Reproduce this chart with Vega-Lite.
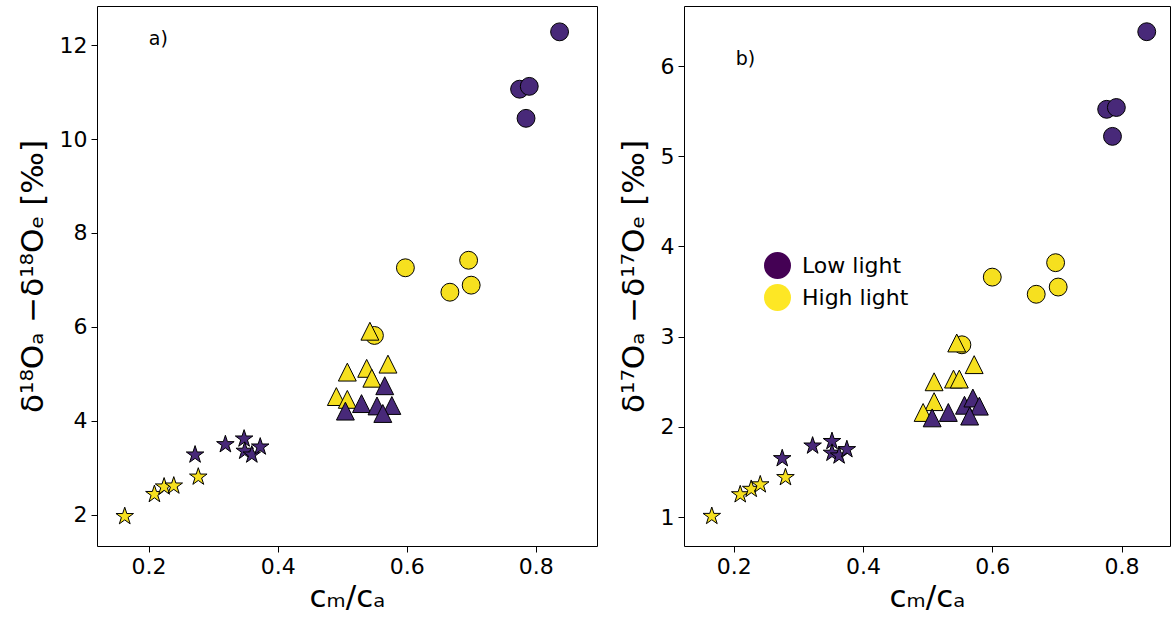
{
 "$schema": "https://vega.github.io/schema/vega-lite/v6.json",
 "padding": {"left": 16, "top": 5, "right": 3, "bottom": 5},
 "spacing": 19,
 "config": {
   "font": "DejaVu Sans",
   "view": {"stroke": "black", "strokeWidth": 1},
   "axis": {"grid": false, "domain": false, "tickColor": "black", "tickSize": 6, "labelColor": "black", "labelFontSize": 22, "titleFontSize": 31, "titleFontWeight": "normal", "titleColor": "black", "labelPadding": 4, "titlePadding": 10},
   "axisX": {"titlePadding": 5}
 },
 "resolve": {"legend": {"color": "independent"}},
 "hconcat": [
  {
   "width": 500, "height": 540,
   "data": {"values": [
   {"light": "Low light", "kind": "circle", "cr": 0.837, "dv": 12.28},
   {"light": "Low light", "kind": "circle", "cr": 0.775, "dv": 11.06},
   {"light": "Low light", "kind": "circle", "cr": 0.790, "dv": 11.12},
   {"light": "Low light", "kind": "circle", "cr": 0.785, "dv": 10.44},
   {"light": "High light", "kind": "circle", "cr": 0.598, "dv": 7.26},
   {"light": "High light", "kind": "circle", "cr": 0.696, "dv": 7.42},
   {"light": "High light", "kind": "circle", "cr": 0.667, "dv": 6.74},
   {"light": "High light", "kind": "circle", "cr": 0.700, "dv": 6.89},
   {"light": "High light", "kind": "circle", "cr": 0.550, "dv": 5.82},
   {"light": "High light", "kind": "triangle", "cr": 0.543, "dv": 5.91},
   {"light": "High light", "kind": "triangle", "cr": 0.508, "dv": 5.04},
   {"light": "High light", "kind": "triangle", "cr": 0.538, "dv": 5.12},
   {"light": "High light", "kind": "triangle", "cr": 0.571, "dv": 5.21},
   {"light": "High light", "kind": "triangle", "cr": 0.546, "dv": 4.91},
   {"light": "High light", "kind": "triangle", "cr": 0.491, "dv": 4.52},
   {"light": "High light", "kind": "triangle", "cr": 0.508, "dv": 4.46},
   {"light": "Low light", "kind": "triangle", "cr": 0.566, "dv": 4.75},
   {"light": "Low light", "kind": "triangle", "cr": 0.505, "dv": 4.21},
   {"light": "Low light", "kind": "triangle", "cr": 0.530, "dv": 4.37},
   {"light": "Low light", "kind": "triangle", "cr": 0.554, "dv": 4.32},
   {"light": "Low light", "kind": "triangle", "cr": 0.577, "dv": 4.33},
   {"light": "Low light", "kind": "triangle", "cr": 0.563, "dv": 4.16},
   {"light": "High light", "kind": "star", "cr": 0.163, "dv": 1.97},
   {"light": "High light", "kind": "star", "cr": 0.209, "dv": 2.44},
   {"light": "High light", "kind": "star", "cr": 0.224, "dv": 2.60},
   {"light": "High light", "kind": "star", "cr": 0.239, "dv": 2.62},
   {"light": "High light", "kind": "star", "cr": 0.277, "dv": 2.81},
   {"light": "Low light", "kind": "star", "cr": 0.272, "dv": 3.28},
   {"light": "Low light", "kind": "star", "cr": 0.319, "dv": 3.50},
   {"light": "Low light", "kind": "star", "cr": 0.348, "dv": 3.62},
   {"light": "Low light", "kind": "star", "cr": 0.349, "dv": 3.36},
   {"light": "Low light", "kind": "star", "cr": 0.360, "dv": 3.28},
   {"light": "Low light", "kind": "star", "cr": 0.373, "dv": 3.45},
   {"light": "note", "kind": "label", "cr": 0.215, "dv": 12.13, "label": "a)"}
   ]},
   "encoding": {
     "x": {"field": "cr", "type": "quantitative", "scale": {"domain": [0.12, 0.895], "nice": false, "zero": false}, "axis": {"values": [0.2, 0.4, 0.6, 0.8], "format": ".1f", "title": "cₘ/cₐ"}},
     "y": {"field": "dv", "type": "quantitative", "scale": {"domain": [1.34, 12.83], "nice": false, "zero": false}, "axis": {"values": [2, 4, 6, 8, 10, 12], "title": "δ¹⁸Oₐ −δ¹⁸Oₑ [‰]"}}
   },
   "layer": [
    {"transform": [{"filter": "datum.kind === 'circle'"}], "mark": {"type": "point", "shape": "circle", "filled": true, "size": 320, "stroke": "black", "strokeWidth": 1, "opacity": 1}, "encoding": {"fill": {"field": "light", "type": "nominal", "scale": {"domain": ["Low light", "High light"], "range": ["#482979", "#f6e01f"]}, "legend": null}}},
    {"transform": [{"filter": "datum.kind === 'triangle'"}], "mark": {"type": "point", "shape": "M0,-1L1,1L-1,1Z", "filled": true, "size": 320, "stroke": "black", "strokeWidth": 1, "opacity": 1}, "encoding": {"fill": {"field": "light", "type": "nominal", "legend": null}}},
    {"transform": [{"filter": "datum.kind === 'star'"}], "mark": {"type": "point", "shape": "M0,-1L0.2245,-0.309L0.9511,-0.309L0.3633,0.118L0.5878,0.809L0,0.382L-0.5878,0.809L-0.3633,0.118L-0.9511,-0.309L-0.2245,-0.309Z", "filled": true, "size": 340, "stroke": "black", "strokeWidth": 1, "opacity": 1}, "encoding": {"fill": {"field": "light", "type": "nominal", "legend": null}}},
    {"transform": [{"filter": "datum.kind === 'label'"}], "mark": {"type": "text", "fontSize": 19, "align": "center", "baseline": "middle", "color": "black"}, "encoding": {"text": {"field": "label", "type": "nominal"}}}
   ]
  },
  {
   "width": 486, "height": 540,
   "data": {"values": [
   {"light": "Low light", "kind": "circle", "cr": 0.839, "dv": 6.38},
   {"light": "Low light", "kind": "circle", "cr": 0.777, "dv": 5.52},
   {"light": "Low light", "kind": "circle", "cr": 0.792, "dv": 5.54},
   {"light": "Low light", "kind": "circle", "cr": 0.786, "dv": 5.22},
   {"light": "High light", "kind": "circle", "cr": 0.600, "dv": 3.66},
   {"light": "High light", "kind": "circle", "cr": 0.698, "dv": 3.82},
   {"light": "High light", "kind": "circle", "cr": 0.668, "dv": 3.47},
   {"light": "High light", "kind": "circle", "cr": 0.702, "dv": 3.55},
   {"light": "High light", "kind": "circle", "cr": 0.553, "dv": 2.91},
   {"light": "High light", "kind": "triangle", "cr": 0.545, "dv": 2.93},
   {"light": "High light", "kind": "triangle", "cr": 0.572, "dv": 2.69},
   {"light": "High light", "kind": "triangle", "cr": 0.510, "dv": 2.50},
   {"light": "High light", "kind": "triangle", "cr": 0.540, "dv": 2.53},
   {"light": "High light", "kind": "triangle", "cr": 0.549, "dv": 2.53},
   {"light": "High light", "kind": "triangle", "cr": 0.510, "dv": 2.28},
   {"light": "High light", "kind": "triangle", "cr": 0.493, "dv": 2.16},
   {"light": "Low light", "kind": "triangle", "cr": 0.507, "dv": 2.10},
   {"light": "Low light", "kind": "triangle", "cr": 0.532, "dv": 2.16},
   {"light": "Low light", "kind": "triangle", "cr": 0.557, "dv": 2.24},
   {"light": "Low light", "kind": "triangle", "cr": 0.570, "dv": 2.32},
   {"light": "Low light", "kind": "triangle", "cr": 0.580, "dv": 2.23},
   {"light": "Low light", "kind": "triangle", "cr": 0.565, "dv": 2.12},
   {"light": "High light", "kind": "star", "cr": 0.166, "dv": 1.01},
   {"light": "High light", "kind": "star", "cr": 0.210, "dv": 1.25},
   {"light": "High light", "kind": "star", "cr": 0.227, "dv": 1.31},
   {"light": "High light", "kind": "star", "cr": 0.241, "dv": 1.36},
   {"light": "High light", "kind": "star", "cr": 0.280, "dv": 1.44},
   {"light": "Low light", "kind": "star", "cr": 0.275, "dv": 1.65},
   {"light": "Low light", "kind": "star", "cr": 0.322, "dv": 1.79},
   {"light": "Low light", "kind": "star", "cr": 0.352, "dv": 1.84},
   {"light": "Low light", "kind": "star", "cr": 0.352, "dv": 1.71},
   {"light": "Low light", "kind": "star", "cr": 0.363, "dv": 1.68},
   {"light": "Low light", "kind": "star", "cr": 0.375, "dv": 1.75},
   {"light": "note", "kind": "label", "cr": 0.218, "dv": 6.08, "label": "b)"}
   ]},
   "encoding": {
     "x": {"field": "cr", "type": "quantitative", "scale": {"domain": [0.123, 0.875], "nice": false, "zero": false}, "axis": {"values": [0.2, 0.4, 0.6, 0.8], "format": ".1f", "title": "cₘ/cₐ"}},
     "y": {"field": "dv", "type": "quantitative", "scale": {"domain": [0.68, 6.665], "nice": false, "zero": false}, "axis": {"values": [1, 2, 3, 4, 5, 6], "title": "δ¹⁷Oₐ −δ¹⁷Oₑ [‰]"}}
   },
   "layer": [
    {"transform": [{"filter": "datum.kind === 'circle'"}], "mark": {"type": "point", "shape": "circle", "filled": true, "opacity": 0}, "encoding": {"color": {"field": "light", "type": "nominal", "scale": {"domain": ["Low light", "High light"], "range": ["#440154", "#fde725"]}, "legend": {"orient": "none", "legendX": 80, "legendY": 246, "title": null, "symbolSize": 729, "symbolType": "circle", "symbolOpacity": 1, "symbolStrokeWidth": 0, "labelFontSize": 22, "labelColor": "black", "labelOffset": 11, "rowPadding": 5, "padding": 0}}}},
    {"transform": [{"filter": "datum.kind === 'circle'"}], "mark": {"type": "point", "shape": "circle", "filled": true, "size": 320, "stroke": "black", "strokeWidth": 1, "opacity": 1}, "encoding": {"fill": {"field": "light", "type": "nominal", "legend": null}}},
    {"transform": [{"filter": "datum.kind === 'triangle'"}], "mark": {"type": "point", "shape": "M0,-1L1,1L-1,1Z", "filled": true, "size": 320, "stroke": "black", "strokeWidth": 1, "opacity": 1}, "encoding": {"fill": {"field": "light", "type": "nominal", "legend": null}}},
    {"transform": [{"filter": "datum.kind === 'star'"}], "mark": {"type": "point", "shape": "M0,-1L0.2245,-0.309L0.9511,-0.309L0.3633,0.118L0.5878,0.809L0,0.382L-0.5878,0.809L-0.3633,0.118L-0.9511,-0.309L-0.2245,-0.309Z", "filled": true, "size": 340, "stroke": "black", "strokeWidth": 1, "opacity": 1}, "encoding": {"fill": {"field": "light", "type": "nominal", "legend": null}}},
    {"transform": [{"filter": "datum.kind === 'label'"}], "mark": {"type": "text", "fontSize": 19, "align": "center", "baseline": "middle", "color": "black"}, "encoding": {"text": {"field": "label", "type": "nominal"}}}
   ]
  }
 ]
}
